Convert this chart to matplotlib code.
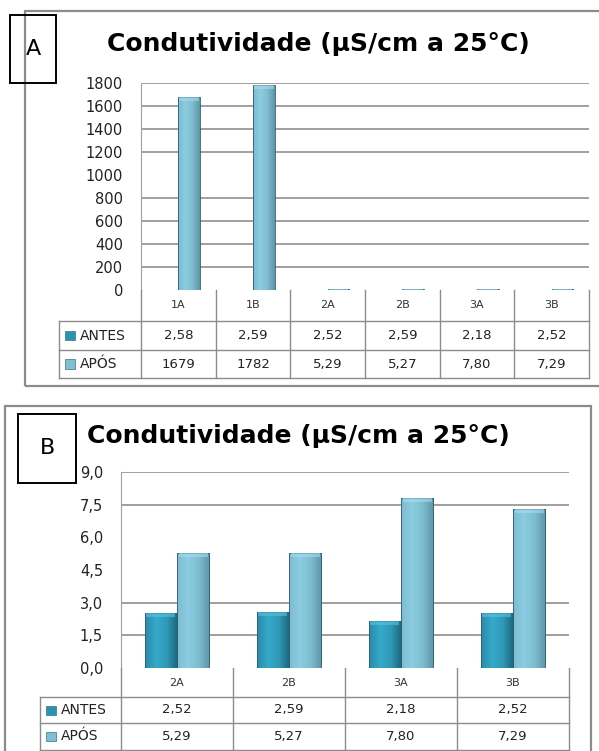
import numpy as np
import matplotlib
matplotlib.use("Agg")
import matplotlib.pyplot as plt
from matplotlib.lines import Line2D
from matplotlib.patches import Rectangle
from matplotlib.colors import LinearSegmentedColormap

# data
cats_a = ["1A", "1B", "2A", "2B", "3A", "3B"]
antes_a = [2.58, 2.59, 2.52, 2.59, 2.18, 2.52]
apos_a = [1679, 1782, 5.29, 5.27, 7.80, 7.29]

cats_b = ["2A", "2B", "3A", "3B"]
antes_b = [2.52, 2.59, 2.18, 2.52]
apos_b = [5.29, 5.27, 7.80, 7.29]

series_names = ["ANTES", "APÓS"]
title = "Condutividade (μS/cm a 25°C)"

W, H = 599, 751
fig = plt.figure(figsize=(W / 100, H / 100), dpi=100)

GRID = "#868686"
BORDER = "#8c8c8c"
cm_antes = LinearSegmentedColormap.from_list("antes", ["#2b8ba8", "#36a9c9", "#2f9ab9", "#1d657b"])
cm_apos = LinearSegmentedColormap.from_list("apos", ["#7dbbd0", "#8ccde1", "#7fbcd0", "#5d96a8"])
cap_cols = ["#55c4e2", "#a6dcec"]
grad = np.linspace(0, 1, 40).reshape(1, -1)


def fx(x):
    return x / W


def fy(y):
    return 1 - y / H


def fline(x0, y0, x1, y1, color=BORDER, lw=1.0):
    fig.add_artist(Line2D([fx(x0), fx(x1)], [fy(y0), fy(y1)], transform=fig.transFigure,
                          color=color, lw=lw))


def frect(x0, y0, x1, y1, color, lw):
    fig.add_artist(Rectangle((fx(x0), fy(y1)), fx(x1) - fx(x0), fy(y0) - fy(y1),
                             transform=fig.transFigure, fill=False, edgecolor=color, lw=lw))


def fmt_val(v):
    if v >= 100:
        return f"{v:.0f}"
    return f"{v:.2f}".replace(".", ",")


def panel(border, box, letter, title_xy, plot, rows, leg_x, cats, antes, apos,
          ymax, ystep, tickfmt, hide_grid):
    bx0, by0, bx1, by1 = border
    frect(bx0, by0, bx1, by1, BORDER, 1.6)
    frect(*box, "black", 1.4)
    fig.text(fx((box[0] + box[2]) / 2), fy((box[1] + box[3]) / 2), letter,
             ha="center", va="center", fontsize=16, family="DejaVu Sans")
    fig.text(fx(title_xy[0]), fy(title_xy[1]), title, ha="center", va="center",
             fontsize=18, fontweight="bold", family="DejaVu Sans")

    pl, pt, pr, pb = plot
    ax = fig.add_axes([fx(pl), fy(pb), fx(pr) - fx(pl), fy(pt) - fy(pb)])
    n = len(cats)
    x = np.arange(n)
    w = 0.29
    ax.set_xlim(-0.5, n - 0.5)
    ax.set_ylim(0, ymax)
    yt = np.arange(0, ymax + ystep / 2, ystep)
    ax.set_yticks(yt)
    ax.set_yticklabels([tickfmt(v) for v in yt], fontsize=10.5, family="DejaVu Sans", color="#222222")
    ax.tick_params(axis="y", length=0, pad=13)
    ax.set_xticks([])
    ax.yaxis.grid(True, color=GRID, lw=1.1)
    ax.set_axisbelow(True)
    for i, g in enumerate(ax.yaxis.get_gridlines()):
        if yt[i] in hide_grid or yt[i] == 0:
            g.set_visible(False)
    for s in ["top", "right", "bottom"]:
        ax.spines[s].set_visible(False)
    ax.spines["left"].set_color("#a0a0a0")

    cap = ymax * 4.0 / (pb - pt)
    for vals, off, cmap, cc in [(antes, -w / 2, cm_antes, cap_cols[0]),
                                (apos, w / 2, cm_apos, cap_cols[1])]:
        bars = ax.bar(x + off, vals, width=w, color="none", edgecolor="#2a5e6e", lw=0.6, zorder=3)
        for b, v in zip(bars, vals):
            x0 = b.get_x()
            im = ax.imshow(grad, extent=[x0, x0 + w, 0, v], aspect="auto", cmap=cmap, zorder=2.5)
            im.set_clip_path(b)
            c = min(cap, v * 0.5)
            ax.bar(x0 + w / 2, c, width=w * 0.9, bottom=v - c, color=cc, lw=0, zorder=3.2, alpha=0.6)
    ax.set_xlim(-0.5, n - 0.5)
    ax.set_ylim(0, ymax)

    # data table below the plot
    r0, r1, r2 = rows
    colw = (pr - pl) / n
    fline(leg_x, r0, pr, r0)
    fline(leg_x, r1, pr, r1)
    fline(leg_x, r2, pr, r2)
    fline(leg_x, r0, leg_x, r2)
    for k in range(n + 1):
        fline(pl + k * colw, pb, pl + k * colw, r2)
    yc_cat = (pb + r0) / 2
    yc1 = (r0 + r1) / 2
    yc2 = (r1 + r2) / 2
    for k in range(n):
        xc = pl + (k + 0.5) * colw
        fig.text(fx(xc), fy(yc_cat), cats[k], ha="center", va="center", fontsize=8,
                 color="#333333", family="DejaVu Sans")
        fig.text(fx(xc), fy(yc1), fmt_val(antes[k]), ha="center", va="center", fontsize=9.5,
                 color="#222222", family="DejaVu Sans")
        fig.text(fx(xc), fy(yc2), fmt_val(apos[k]), ha="center", va="center", fontsize=9.5,
                 color="#222222", family="DejaVu Sans")
    for yc, name, col in [(yc1, series_names[0], "#2a93b2"), (yc2, series_names[1], "#7fbfd3")]:
        fig.add_artist(Rectangle((fx(leg_x + 6), fy(yc + 4.5)), 10 / W, 9 / H,
                                 transform=fig.transFigure, facecolor=col,
                                 edgecolor="#3f6f7d", lw=0.5))
        fig.text(fx(leg_x + 21), fy(yc), name, ha="left", va="center", fontsize=10,
                 color="#222222", family="DejaVu Sans")


panel(border=(25, 11, 610, 386), box=(10, 15, 56, 83), letter="A", title_xy=(318, 44),
      plot=(141, 83, 589, 290), rows=(321, 350, 378), leg_x=59,
      cats=cats_a, antes=antes_a, apos=apos_a, ymax=1800, ystep=200,
      tickfmt=lambda v: f"{v:.0f}", hide_grid=[1000])

panel(border=(5, 406, 591, 770), box=(18, 414, 76, 483), letter="B", title_xy=(298, 436),
      plot=(121, 472, 569, 668), rows=(697, 723, 750), leg_x=40,
      cats=cats_b, antes=antes_b, apos=apos_b, ymax=9.0, ystep=1.5,
      tickfmt=lambda v: f"{v:.1f}".replace(".", ","), hide_grid=[4.5, 6.0])

fig.savefig("out.png", dpi=100)
